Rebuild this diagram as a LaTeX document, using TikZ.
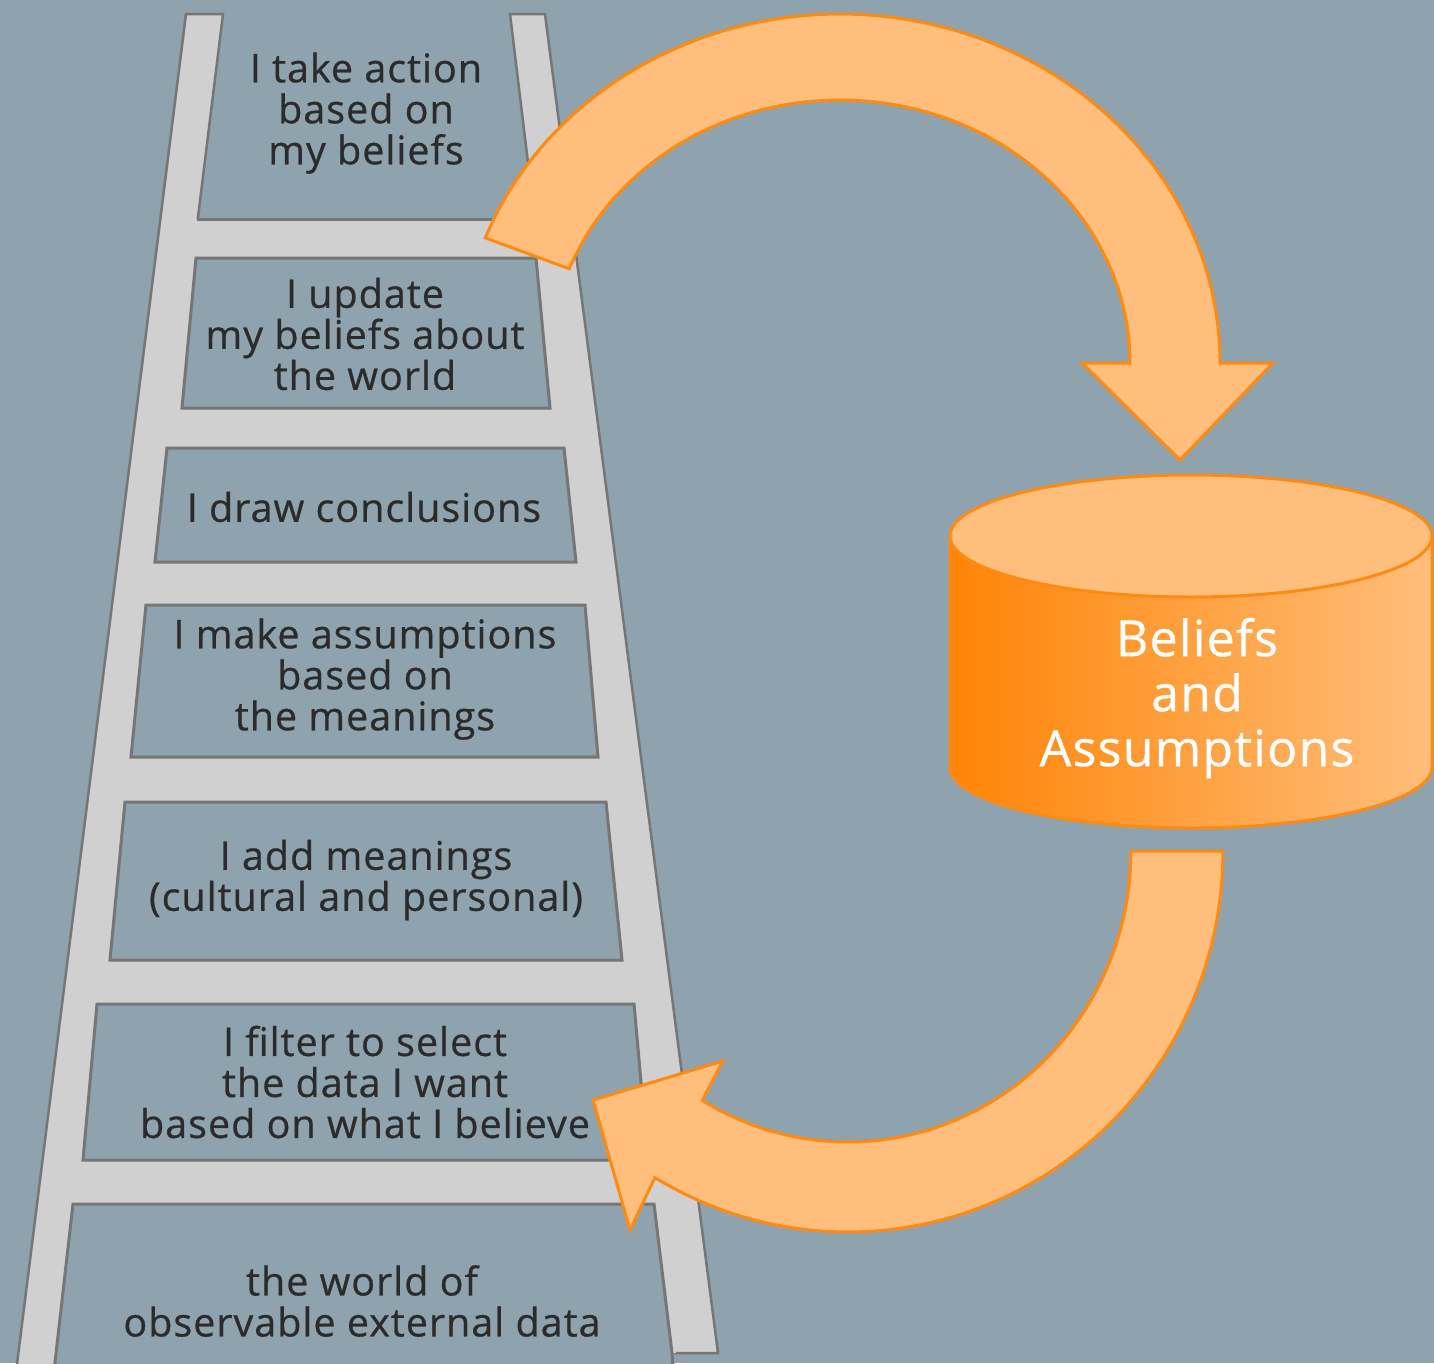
\documentclass[tikz,border=0pt]{standalone}
\usepackage{fontspec}
\setmainfont[LetterSpace=2.5, FakeBold=0.6]{Open Sans}
\definecolor{bgcol}{HTML}{8EA3AD}
\definecolor{ladgrey}{HTML}{D0D0D0}
\definecolor{ladline}{HTML}{767676}
\definecolor{txtcol}{HTML}{2B2B2B}
\definecolor{orline}{HTML}{FF8A12}
\definecolor{orfill}{HTML}{FFBE7B}
\definecolor{ordark}{HTML}{FF8406}
\tikzset{
  rail/.style={fill=ladgrey, draw=ladline, line width=2.5pt, line join=miter},
  panel/.style={fill=bgcol, draw=ladline, line width=3pt},
  steptext/.style={text=txtcol, align=center, font=\fontsize{39.5}{41}\selectfont, inner sep=0pt},
  bigarrow/.style={fill=orfill, draw=orline, line width=3pt, line join=miter},
  cyltext/.style={text=white, align=center, font=\fontsize{50}{55}\selectfont, inner sep=0pt}
}
\begin{document}
\begin{tikzpicture}[x=1pt,y=-1pt]
\useasboundingbox (0,0) rectangle (1434,1363);
\fill[bgcol] (0,0) rectangle (1434,1363);
\clip (0,0) rectangle (1434,1363);

% rails
\draw[rail] (186,14) -- (223,14) -- (55,1380) -- (15,1380) -- cycle;
\draw[rail] (510,14) -- (545,14) -- (718,1353) -- (672,1353) -- cycle;
% rung area
\fill[ladgrey] (194,219) -- (538,219) -- (676,1353) -- (51,1353) -- cycle;
% top panel bottom edge
\draw[ladline, line width=3pt] (197,219) -- (536,219);

% panels
\draw[panel] (196,258) -- (536,258) -- (550,408) -- (182,408) -- cycle;
\draw[panel] (167,448) -- (564,448) -- (576,562) -- (155,562) -- cycle;
\draw[panel] (146,605) -- (585,605) -- (598,757) -- (131,757) -- cycle;
\draw[panel] (125,802) -- (606,802) -- (622,960) -- (110,960) -- cycle;
\draw[panel] (97,1004) -- (634,1004) -- (648,1160) -- (83,1160) -- cycle;
\draw[panel] (73,1204) -- (654,1204) -- (672,1353) -- (674,1380) -- (53,1380) -- cycle;

% texts
\node[steptext] (s1) at (366,113) {I take action\\based on\\my beliefs};
\node[steptext] (s2) at (365,334) {I update\\my beliefs about\\the world};
\node[steptext] (s3) at (364,507) {I draw conclusions};
\node[steptext] (s4) at (365,679) {I make assumptions\\based on\\the meanings};
\node[steptext] (s5) at (366,880) {I add meanings\\(cultural and personal)};
\node[steptext] (s6) at (365,1082) {I filter to select\\the data I want\\based on what I believe};
\node[steptext] (s7) at (362,1301) {the world of\\observable external data};

% cylinder
\path[left color=ordark, right color=orfill, draw=orline, line width=3pt]
  (950,536) -- plot[domain=180:360,samples=80] ({1191+241*cos(\x)},{767-61*sin(\x)}) -- (1432,536) -- cycle;
\draw[fill=orfill, draw=orline, line width=3pt] (1191,536) ellipse [x radius=241pt, y radius=61pt];
\node[cyltext] (cyl) at (1197,698) {Beliefs\\and\\Assumptions};

% top curved arrow
\draw[bigarrow] plot[domain=159:0,samples=90] ({840+380*cos(\x)},{363-349*sin(\x)})
  -- (1273,363) -- (1180,460) -- (1082,363)
  -- plot[domain=0:159,samples=90] ({840+290*cos(\x)},{363-263*sin(\x)}) -- cycle;

% bottom curved arrow
\draw[bigarrow] (1131,851) -- plot[domain=0:121,samples=90] ({848+375*cos(\x)},{851+381*sin(\x)})
  -- (630,1230) -- (593,1100) -- (723,1061)
  -- plot[domain=121:0,samples=90] ({848+283*cos(\x)},{851+291*sin(\x)}) -- cycle;
\end{tikzpicture}
\end{document}
